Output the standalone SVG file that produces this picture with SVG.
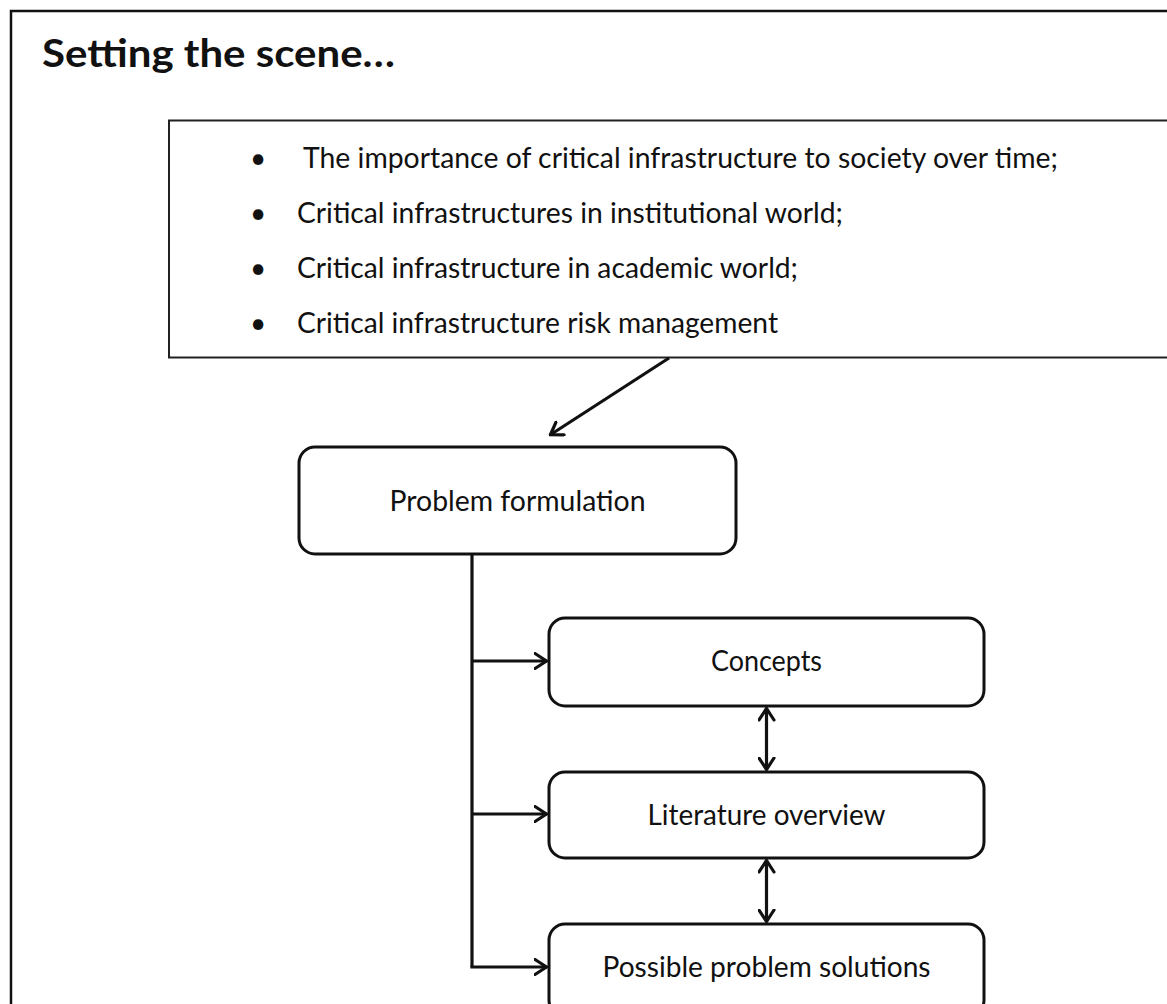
<svg xmlns="http://www.w3.org/2000/svg" width="1167" height="1004" viewBox="0 0 1167 1004">
  <style>
    .frame { fill: none; stroke: #111; stroke-width: 2.5; }
    .panel { fill: #fff; stroke: #222; stroke-width: 2; }
    .node { fill: #fff; stroke: #111; stroke-width: 3; }
    .title { font-family: Lato, "Liberation Sans", sans-serif; font-weight: bold; font-size: 39px; fill: #111; }
    .item { font-family: Lato, "Liberation Sans", sans-serif; font-size: 28px; fill: #111; }
    .label { font-family: Lato, "Liberation Sans", sans-serif; font-size: 28px; fill: #111; text-anchor: middle; }
    .wire { fill: none; stroke: #111; stroke-width: 3.2; }
  </style>
  <defs>
    <marker id="head" viewBox="0 0 15 18" refX="13.5" refY="9" markerWidth="15" markerHeight="18" markerUnits="userSpaceOnUse" orient="auto-start-reverse">
      <path d="M1.5,1.5 L13,9 L1.5,16.5" fill="none" stroke="#111" stroke-width="3.2" stroke-linecap="round" stroke-linejoin="miter"/>
    </marker>
  </defs>

  <rect width="1167" height="1004" fill="#fff"/>

  <!-- slide frame, running off the right and bottom edges -->
  <rect class="frame" x="11" y="11" width="1180" height="1010"/>

  <text class="title" x="42" y="67" textLength="353" lengthAdjust="spacingAndGlyphs">Setting the scene…</text>

  <!-- bullet list panel -->
  <g id="scene-list">
    <rect class="panel" x="169" y="120.5" width="1010" height="237"/>
    <text class="item" x="258" y="168" text-anchor="middle">•</text>
    <text class="item" x="258" y="223" text-anchor="middle">•</text>
    <text class="item" x="258" y="278" text-anchor="middle">•</text>
    <text class="item" x="258" y="333" text-anchor="middle">•</text>
    <text class="item" x="303" y="168" textLength="755" lengthAdjust="spacingAndGlyphs">The importance of critical infrastructure to society over time;</text>
    <text class="item" x="297" y="223" textLength="546" lengthAdjust="spacingAndGlyphs">Critical infrastructures in institutional world;</text>
    <text class="item" x="297" y="278" textLength="501" lengthAdjust="spacingAndGlyphs">Critical infrastructure in academic world;</text>
    <text class="item" x="297" y="333" textLength="481" lengthAdjust="spacingAndGlyphs">Critical infrastructure risk management</text>
  </g>

  <g id="problem-formulation">
    <rect class="node" x="299" y="447" width="437" height="107" rx="16"/>
    <text class="label" x="517.5" y="511" textLength="256" lengthAdjust="spacingAndGlyphs">Problem formulation</text>
  </g>

  <g id="concepts">
    <rect class="node" x="549" y="618" width="435" height="88" rx="16"/>
    <text class="label" x="766.5" y="671" textLength="111" lengthAdjust="spacingAndGlyphs">Concepts</text>
  </g>

  <g id="literature-overview">
    <rect class="node" x="549" y="772" width="435" height="86" rx="16"/>
    <text class="label" x="766.5" y="825" textLength="238" lengthAdjust="spacingAndGlyphs">Literature overview</text>
  </g>

  <g id="possible-solutions">
    <rect class="node" x="549" y="924" width="435" height="92" rx="16"/>
    <text class="label" x="766.5" y="977" textLength="328" lengthAdjust="spacingAndGlyphs">Possible problem solutions</text>
  </g>

  <g id="connectors">
    <line class="wire" x1="669" y1="358" x2="550" y2="435" marker-end="url(#head)"/>
    <polyline class="wire" points="472,554 472,967"/>
    <line class="wire" x1="472" y1="661" x2="547" y2="661" marker-end="url(#head)"/>
    <line class="wire" x1="472" y1="814" x2="547" y2="814" marker-end="url(#head)"/>
    <line class="wire" x1="470.4" y1="967" x2="547" y2="967" marker-end="url(#head)"/>
    <line class="wire" x1="766.5" y1="708" x2="766.5" y2="770" marker-start="url(#head)" marker-end="url(#head)"/>
    <line class="wire" x1="766.5" y1="860" x2="766.5" y2="922" marker-start="url(#head)" marker-end="url(#head)"/>
  </g>
</svg>
